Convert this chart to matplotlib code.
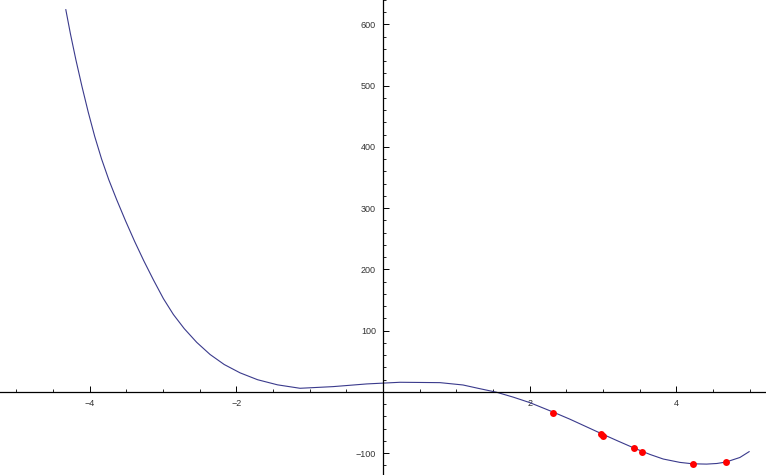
import matplotlib
matplotlib.use("Agg")
import matplotlib.pyplot as plt
from matplotlib.ticker import MultipleLocator, FixedLocator

# curve
curve_x = [-4.323, -4.260, -4.186, -4.103, -4.017, -3.929, -3.836, -3.737,
           -3.629, -3.509, -3.385, -3.260, -3.129, -2.993, -2.857, -2.709,
           -2.539, -2.357, -2.164, -1.948, -1.710, -1.437, -1.131, -0.681,
           -0.222, 0.232, 0.777, 1.090, 1.294, 1.549, 1.776, 2.003, 2.312,
           2.548, 2.966, 3.200, 3.420, 3.638, 3.819, 4.046, 4.219, 4.410,
           4.550, 4.673, 4.864, 4.990]
curve_y = [624.2, 584.7, 542.5, 498.9, 456.7, 417.2, 380.5, 346.4,
           313.7, 279.4, 245.8, 214.1, 183.0, 152.4, 126.5, 103.4,
           81.0, 61.2, 44.8, 31.2, 20.0, 11.6, 6.0, 8.7,
           13.1, 15.8, 15.2, 11.4, 6.0, -0.5, -8.5, -17.5, -32.5,
           -44.5, -67.5, -80.0, -91.5, -102.0, -109.5, -115.0, -117.3, -117.8,
           -116.8, -114.5, -107.0, -97.5]

# red sample points
pts_x = [2.312, 2.966, 3.001, 3.420, 3.529, 4.219, 4.673]
pts_y = [-33.8, -68.6, -71.4, -91.0, -98.0, -117.1, -113.9]

xticks = [-4, -2, 2, 4]
yticks = [-100, 100, 200, 300, 400, 500, 600]

fig = plt.figure(figsize=(7.66, 4.75), dpi=100)
ax = fig.add_axes([0, 0, 1, 1])

ax.plot(curve_x, curve_y, color="#3a3a8c", linewidth=0.8)
ax.plot(pts_x, pts_y, "o", color="#ff0000", markersize=5, markeredgewidth=0)

ax.set_xlim(-5.22, 5.22)
ax.set_ylim(-135.6, 640)

for s in ["top", "right"]:
    ax.spines[s].set_visible(False)
ax.spines["left"].set_position(("data", 0))
ax.spines["bottom"].set_position(("data", 0))
ax.spines["left"].set_linewidth(0.9)
ax.spines["bottom"].set_linewidth(0.9)

ax.xaxis.set_major_locator(FixedLocator(xticks))
ax.yaxis.set_major_locator(FixedLocator(yticks))
ax.xaxis.set_minor_locator(MultipleLocator(0.5))
ax.yaxis.set_minor_locator(MultipleLocator(20))
ax.set_xticklabels([f"\u2212{abs(v)}" if v < 0 else str(v) for v in xticks])
ax.set_yticklabels([f"\u2212{abs(v)}" if v < 0 else str(v) for v in yticks])

ax.tick_params(which="major", direction="in", length=4, width=0.7,
               labelsize=6.5, labelcolor="#333333", pad=5)
ax.tick_params(which="minor", direction="in", length=2, width=0.6)
for lab in ax.get_xticklabels() + ax.get_yticklabels():
    lab.set_fontfamily("Liberation Sans")

fig.savefig("out.png", dpi=100)
